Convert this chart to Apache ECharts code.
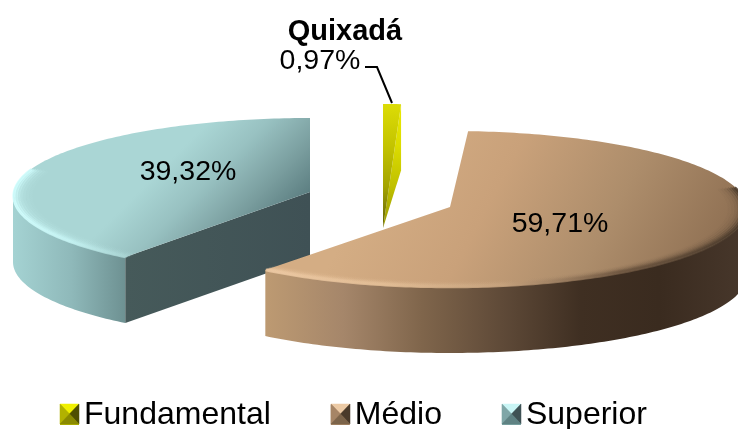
<!DOCTYPE html>
<html>
<head>
<meta charset="utf-8">
<style>
  html, body { margin: 0; padding: 0; background: #fff; }
  #main { width: 738px; height: 429px; }
</style>
<script src="https://cdn.jsdelivr.net/npm/echarts@6/dist/echarts.min.js"></script>
</head>
<body>
<div id="main"></div>
<script>
const chartTitle = 'Quixadá'
const categories = ['Fundamental', 'Médio', 'Superior']
const values = [0.97, 59.71, 39.32]

const font = '"Liberation Sans", Arial, sans-serif'
const RX = 297
const RY = 78
const DEPTH = 66
const Grad = (x0, y0, x1, y1, stops) => new echarts.graphic.LinearGradient(
  x0, y0, x1, y1,
  stops.map((color, i) => ({ offset: i / (stops.length - 1), color })),
  true
)

// how each exploded slice is placed and shaded
const looks = {
  Fundamental: {
    cx: 383, cy: 182, apexDy: 46, faceAt: 'end', faceDrop: 0, order: 2,
    top: Grad(0, 104, 0, 228, ['#dcdc06', '#c4c400', '#a4a400', '#5e5e08']),
    side: null,
    face: Grad(0, 104, 0, 228, ['#eaea00', '#dcdc00', '#c0c000', '#9a9a00'])
  },
  'Médio': {
    cx: 450, cy: 209, apexDy: -2, faceAt: null, order: 3,
    top: Grad(400, 130, 700, 290, ['#d4ad84', '#c9a17a', '#ad8d6b', '#8f7053']),
    side: Grad(265, 0, 738, 0, ['#bd9a72', '#a5866a', '#7f654b', '#5f4a38', '#3f2f22', '#3a2b1f', '#46362a']),
    face: null,
    rim: Grad(265, 0, 738, 0, ['#ecc8a2', '#e2bd95', '#c6a27d', '#6f5741', '#4a3a2b']),
    bevel: [74, 218.5]
  },
  Superior: {
    cx: 310, cy: 196, apexDy: -4, faceAt: 'start', faceDrop: DEPTH, order: 1,
    top: Grad(200, 130, 290, 220, ['#aad6d5', '#98c1c1', '#7b9fa0', '#587a7d']),
    side: Grad(14, 0, 128, 0, ['#a4d2d2', '#8fb9ba', '#6c8f90']),
    face: Grad(125, 0, 310, 0, ['#465a5a', '#3f5155']),
    rim: Grad(14, 0, 125, 0, ['#d2ffff', '#c4f2f2', '#a9d4d3']),
    bevel: [218.5, 290]
  }
}

// where a slice's percentage label sits
const labelSpots = { Fundamental: [320, 61], 'Médio': [560, 224], Superior: [188, 172] }
const leaderLine = [[365, 67], [377, 67], [392, 103]]

const toLabel = (v) => v.toFixed(2).replace('.', ',') + '%'

function rimPoint(look, deg, scale, drop) {
  const a = deg * Math.PI / 180
  return [
    look.cx + RX * scale * Math.sin(a),
    look.cy - RY * scale * Math.cos(a) + (drop || 0)
  ]
}

function arcPoints(look, from, to, scale, drop) {
  const pts = []
  const steps = Math.max(2, Math.ceil(to - from))
  for (let i = 0; i <= steps; i++) {
    pts.push(rimPoint(look, from + (to - from) * i / steps, scale, drop))
  }
  return pts
}

function renderSlice(index) {
  return function (params, api) {
    const total = values.reduce((a, b) => a + b, 0)
    const before = values.slice(0, index).reduce((a, b) => a + b, 0)
    const from = before / total * 360
    const to = from + api.value(0) / total * 360
    const name = categories[index]
    const look = looks[name]
    const apex = [look.cx, look.cy + look.apexDy]
    const children = []

    // outer wall, only where it faces the viewer
    const wallFrom = Math.max(from, 90)
    const wallTo = Math.min(to, 270)
    if (wallTo > wallFrom) {
      children.push({
        type: 'polygon',
        shape: { points: arcPoints(look, wallFrom, wallTo, 1, 0).concat(arcPoints(look, wallFrom, wallTo, 1, DEPTH).reverse()) },
        style: { fill: look.side }
      })
    }

    // flat cut face
    if (look.faceAt) {
      const edge = rimPoint(look, look.faceAt === 'start' ? from : to, 1, 0)
      children.push({
        type: 'polygon',
        shape: { points: [apex, edge, [edge[0], edge[1] + DEPTH], [apex[0], apex[1] + look.faceDrop]] },
        style: { fill: look.face }
      })
    }

    // top surface
    children.push({
      type: 'polygon',
      shape: { points: [apex].concat(arcPoints(look, from, to, 1, 0)) },
      style: { fill: look.top }
    })

    // soft bevel along the rim
    if (look.bevel) {
      const bands = [[0.997, 0.85], [0.989, 0.6], [0.981, 0.4], [0.972, 0.26], [0.962, 0.16], [0.951, 0.09], [0.94, 0.04]]
      bands.forEach(([scale, opacity]) => {
        children.push({
          type: 'polyline',
          shape: { points: arcPoints(look, look.bevel[0], look.bevel[1], scale, 0) },
          style: { stroke: look.rim, lineWidth: 3, fill: null, opacity }
        })
      })
    }

    const spot = labelSpots[name]
    children.push({
      type: 'text',
      style: {
        x: spot[0], y: spot[1],
        text: toLabel(api.value(0)),
        font: '28.5px ' + font,
        fill: '#000',
        align: 'center',
        verticalAlign: 'middle'
      }
    })
    if (name === 'Fundamental') {
      children.push({
        type: 'polyline',
        shape: { points: leaderLine },
        style: { stroke: '#000', lineWidth: 2, fill: null }
      })
    }

    return { type: 'group', children }
  }
}

// pyramid look of the legend keys, four facets each: top, left, right, bottom
const keyFacets = [
  { x: 60, colors: ['#f0f000', '#b2b200', '#4f4f00', '#8a8a00'] },
  { x: 331, colors: ['#eccaa5', '#a68566', '#4a3a2a', '#7c644a'] },
  { x: 502, colors: ['#c9f5f5', '#7fa6a7', '#3f5254', '#5f8283'] }
]
const keyGraphics = []
keyFacets.forEach((k) => {
  const w = 19
  const y = 404
  const h = 20
  const mx = k.x + w / 2
  const my = y + h / 2
  const corners = [[k.x, y], [k.x + w, y], [k.x + w, y + h], [k.x, y + h]]
  const facets = [[0, 1], [3, 0], [1, 2], [2, 3]]
  facets.forEach(([a, b], i) => {
    keyGraphics.push({
      type: 'polygon',
      silent: true,
      z: 100,
      shape: { points: [corners[a], corners[b], [mx, my]] },
      style: { fill: k.colors[i], stroke: k.colors[i], lineWidth: 0.5 }
    })
  })
})

const myChart = echarts.init(document.getElementById('main'))

myChart.setOption({
  animation: false,
  backgroundColor: '#fff',
  title: {
    text: chartTitle,
    left: 340,
    top: 12,
    textAlign: 'center',
    textStyle: { fontFamily: font, fontSize: 29, fontWeight: 'bold', color: '#000' }
  },
  legend: {
    left: 55,
    top: 394,
    itemWidth: 19,
    itemHeight: 20,
    itemGap: 60,
    selectedMode: false,
    data: categories.map((name) => ({ name, icon: 'rect' })),
    textStyle: { fontFamily: font, fontSize: 32, color: '#000' }
  },
  graphic: keyGraphics,
  series: categories.map((name, i) => ({
    type: 'custom',
    name,
    coordinateSystem: 'none',
    silent: true,
    z: looks[name].order,
    data: [[values[i]]],
    itemStyle: { color: keyFacets[i].colors[1] },
    renderItem: renderSlice(i)
  }))
})
</script>
</body>
</html>
